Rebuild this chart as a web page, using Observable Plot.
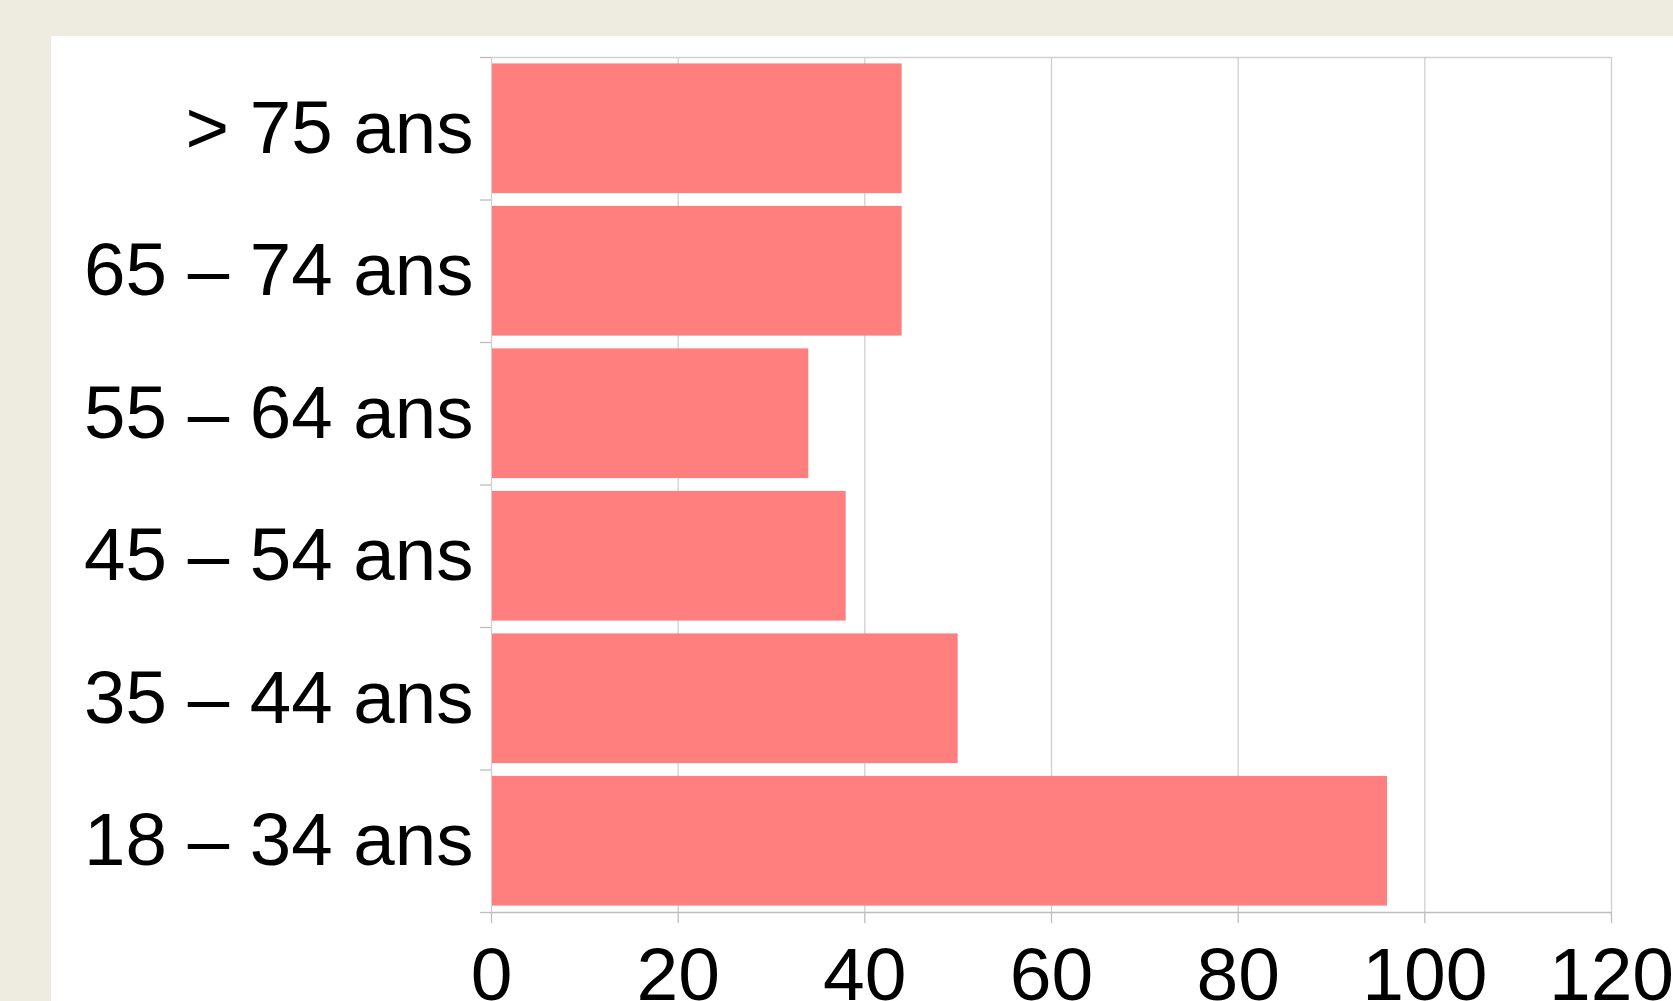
<!DOCTYPE html>
<html>
<head>
<meta charset="utf-8">
<script src="https://cdn.jsdelivr.net/npm/d3@7"></script>
<script src="https://cdn.jsdelivr.net/npm/@observablehq/plot@0.6"></script>
<style>
  html, body { margin: 0; padding: 0; background: #EEEBE0; width: 1673px; height: 1001px; overflow: hidden; }
  #panel { position: absolute; left: 51px; top: 36px; width: 1622px; height: 965px; background: #fff; }
  #panel svg { overflow: visible; font-family: "Liberation Sans", Arial, sans-serif; }
</style>
</head>
<body>
<div id="panel"></div>
<script>
// Categories from bottom to top
const categories = ["18 – 34 ans", "35 – 44 ans", "45 – 54 ans", "55 – 64 ans", "65 – 74 ans", "> 75 ans"];
const values = [96, 50, 38, 34, 44, 44];
const xTicks = [0, 20, 40, 60, 80, 100, 120];

const data = categories.map((c, i) => ({category: c, index: i, value: values[i]}));
const bandEdges = d3.range(0, categories.length + 1);
const bandCenters = d3.range(0, categories.length).map(i => i + 0.5);

const chart = Plot.plot({
  width: 1622,
  height: 965,
  marginLeft: 440,
  marginRight: 62,
  marginTop: 21,
  marginBottom: 89,
  style: {background: "transparent", fontFamily: "Liberation Sans, Arial, sans-serif", overflow: "visible"},
  x: {domain: [0, 120]},
  y: {domain: [0, categories.length]},
  marks: [
    Plot.gridX(xTicks, {stroke: "#d0d0d0", strokeOpacity: 1, strokeWidth: 1.3}),
    Plot.ruleY([categories.length], {stroke: "#d0d0d0", strokeWidth: 1.3}),
    Plot.rect(data, {
      x1: 0, x2: "value",
      y1: "index", y2: d => d.index + 1,
      insetTop: 6.4, insetBottom: 6.4, insetLeft: 1,
      fill: "#FF7F7F"
    }),
    Plot.ruleY([0], {stroke: "#bdbdbd", strokeWidth: 1.3}),
    Plot.axisY(bandEdges, {tickSize: 11, tickFormat: () => "", stroke: "#bdbdbd", strokeWidth: 1.3, label: null}),
    Plot.axisY(bandCenters, {
      tickSize: 0, tickPadding: 18,
      tickFormat: d => categories[Math.floor(d)],
      fontSize: 74.5, fill: "black", label: null
    }),
    Plot.axisX(xTicks, {
      tickSize: 11, tickPadding: 23,
      stroke: "#bdbdbd", strokeWidth: 1.3, fill: "black",
      fontSize: 75, label: null
    })
  ]
});
document.getElementById("panel").appendChild(chart);
</script>
</body>
</html>
